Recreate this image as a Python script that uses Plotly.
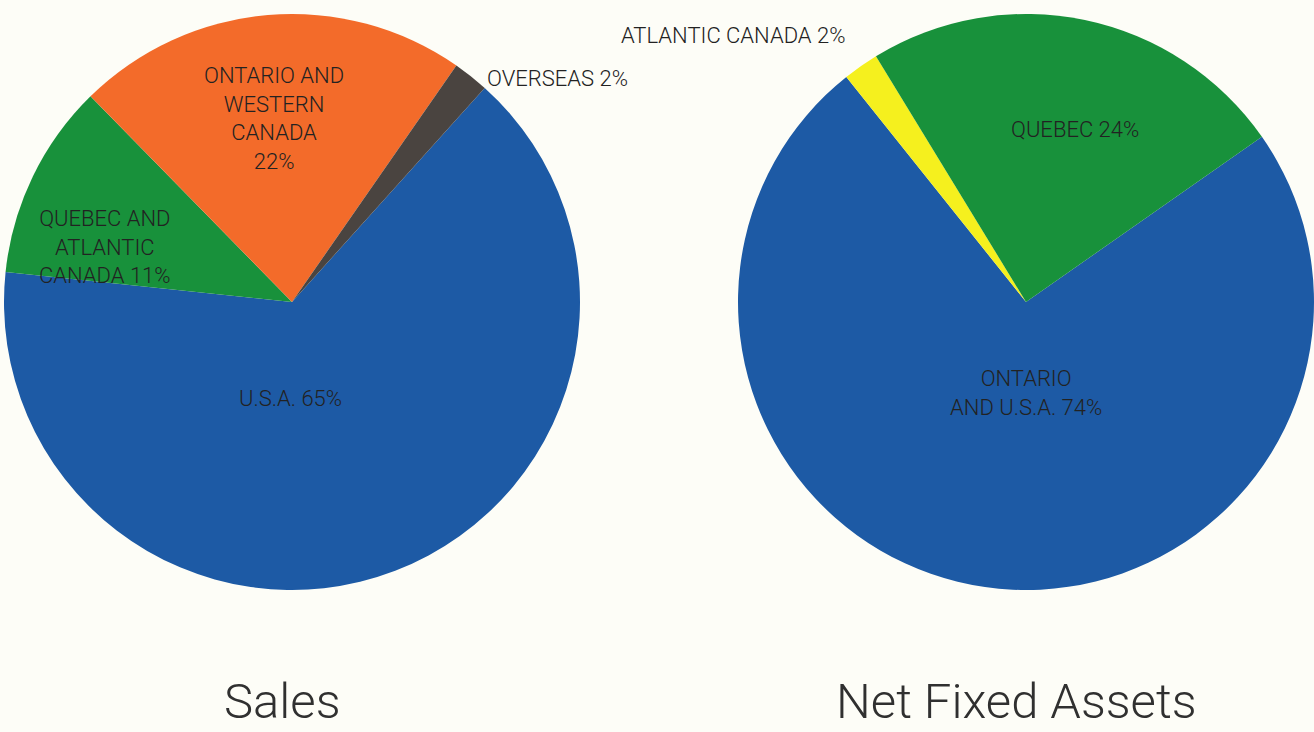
import plotly.graph_objects as go

W, H = 1314, 732

# ---- data ----
sales_labels = ["U.S.A.", "QUEBEC AND ATLANTIC CANADA", "ONTARIO AND WESTERN CANADA", "OVERSEAS"]
sales_values = [65, 11, 22, 2]
sales_colors = ["#1d5aa5", "#18913b", "#f36b2a", "#4a4440"]

assets_labels = ["ONTARIO AND U.S.A.", "ATLANTIC CANADA", "QUEBEC"]
assets_values = [74, 2, 24]
assets_colors = ["#1d5aa5", "#f5f01e", "#18913b"]

titles = ["Sales", "Net Fixed Assets"]

# label texts and their pixel anchors (x, y of block centre from top-left)
label_specs = [
    ("ONTARIO AND<br>WESTERN<br>CANADA<br>22%", 274, 118.5, "center"),
    ("QUEBEC AND<br>ATLANTIC<br>CANADA 11%", 105, 247, "center"),
    ("OVERSEAS 2%", 485, 79, "left"),
    ("U.S.A. 65%", 290.5, 398.5, "center"),
    ("ATLANTIC CANADA 2%", 619, 35, "left"),
    ("QUEBEC 24%", 1075, 130, "center"),
    ("ONTARIO<br>AND U.S.A. 74%", 1026, 393, "center"),
]
title_x = [282, 1016]

BG = "#fdfdf7"
FONT = "Roboto, Liberation Sans, Arial, sans-serif"

def px_x(x):
    return x / W

def px_y(y):
    return 1 - y / H

R = 288
cy = 302

fig = go.Figure()
fig.add_trace(go.Pie(
    labels=sales_labels, values=sales_values, sort=False, direction="clockwise",
    rotation=42, marker=dict(colors=sales_colors, line=dict(width=0)),
    textinfo="none", hoverinfo="label+percent", showlegend=False,
    domain=dict(x=[px_x(292 - R), px_x(292 + R)], y=[px_y(cy + R), px_y(cy - R)]),
))
fig.add_trace(go.Pie(
    labels=assets_labels, values=assets_values, sort=False, direction="clockwise",
    rotation=55, marker=dict(colors=assets_colors, line=dict(width=0)),
    textinfo="none", hoverinfo="label+percent", showlegend=False,
    domain=dict(x=[px_x(1026 - R), min(1.0, px_x(1026 + R))], y=[px_y(cy + R), px_y(cy - R)]),
))

annotations = []
for text, x, y, anchor in label_specs:
    annotations.append(dict(
        text=text, x=px_x(x), y=px_y(y), xref="paper", yref="paper",
        xanchor=anchor, yanchor="middle", align="center", showarrow=False,
        font=dict(family=FONT, size=22, color="#222222", weight=300),
    ))
for t, x in zip(titles, title_x):
    annotations.append(dict(
        text=t, x=px_x(x), y=0, xref="paper", yref="paper",
        xanchor="center", yanchor="bottom", showarrow=False,
        font=dict(family=FONT, size=49, color="#303030", weight=300),
    ))

fig.update_layout(
    width=W, height=H, margin=dict(l=0, r=0, t=0, b=0),
    paper_bgcolor=BG, plot_bgcolor=BG,
    annotations=annotations, showlegend=False,
)

fig.write_html(
    "out.html",
    config={"displayModeBar": False},
    post_script="document.body.style.margin='0';document.body.style.overflow='hidden';document.body.style.background='" + BG + "';",
)
